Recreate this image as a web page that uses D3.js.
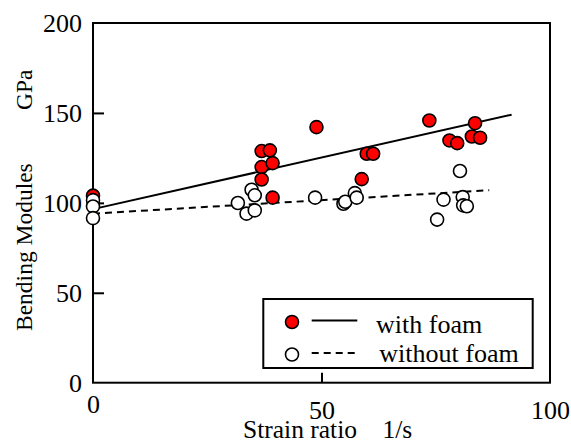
<!DOCTYPE html>
<html><head><meta charset="utf-8">
<script src="https://cdn.jsdelivr.net/npm/d3@7"></script>
<style>
body{margin:0;background:#fff;}
svg text{font-family:'Liberation Serif','Times New Roman',Times,serif !important;fill:#000;}
</style></head>
<body>
<svg id="chart" width="571" height="443" font-family="Liberation Serif"></svg>
<script>
// Data
const withFoamX = [0, 36.9, 38.7, 36.9, 39.3, 36.9, 39.3, 48.9, 58.8, 59.9, 61.3, 73.6, 83.6, 78.0, 79.7, 82.9, 84.7];
const withFoamY = [104, 128.8, 129.2, 119.9, 122.1, 113.0, 102.9, 142.1, 113.2, 127.3, 127.3, 145.8, 144.3, 134.7, 133.2, 136.9, 136.2];
const withoutFoamX = [0, 0, 0, 34.7, 35.4, 31.7, 33.6, 35.4, 48.6, 54.8, 55.2, 57.3, 57.7, 80.3, 76.7, 80.9, 81.0, 81.8, 75.3];
const withoutFoamY = [101.5, 98, 91.5, 107.3, 104.2, 99.9, 94.0, 95.8, 102.9, 99.5, 100.6, 105.4, 102.9, 117.7, 101.8, 103.2, 98.6, 98.1, 90.7];
const fitWithFoam = [[0, 96.5], [91.6, 149]];
const fitWithoutFoam = [[0, 94], [86.7, 107]];
const xTicks = [0, 50, 100];
const yTicks = [0, 50, 100, 150, 200];
const legendLabels = ["with foam", "without foam"];

const FONT = "'Liberation Serif', 'Times New Roman', Times, serif";
const svg = d3.select("#chart");
const x = d3.scaleLinear().domain([0, 100]).range([93, 550]);
const y = d3.scaleLinear().domain([0, 200]).range([382.7, 23]);

// frame
svg.append("rect").attr("x", x(0)).attr("y", y(200)).attr("width", x(100) - x(0)).attr("height", y(0) - y(200))
  .attr("fill", "none").attr("stroke", "#000").attr("stroke-width", 2);

// axes
const yAxis = svg.append("g").attr("transform", `translate(${x(0)},0)`)
  .call(d3.axisLeft(y).tickValues(yTicks).tickSizeInner(-11).tickSizeOuter(0).tickPadding(11));
yAxis.attr("font-family", FONT).attr("font-size", 26);
yAxis.select(".domain").remove();
yAxis.selectAll("line").attr("stroke", "#000").attr("stroke-width", 2)
  .filter(d => d === 0 || d === 200).remove();
yAxis.selectAll("text").style("font-family", FONT).style("font-size", "26px");

const xAxis = svg.append("g").attr("transform", `translate(0,${y(0)})`)
  .call(d3.axisBottom(x).tickValues(xTicks).tickSizeInner(-10).tickSizeOuter(0));
xAxis.attr("font-family", FONT).attr("font-size", 26);
xAxis.select(".domain").remove();
xAxis.selectAll("line").attr("stroke", "#000").attr("stroke-width", 2)
  .filter(d => d === 0 || d === 100).remove();
xAxis.selectAll("text").style("font-family", FONT).style("font-size", "26px")
  .attr("dy", 0).attr("y", d => d === 0 ? 30.3 : 36);

// axis titles
svg.append("text").attr("x", 243).attr("y", 437.5).style("font-family", FONT).style("font-size", "25.5px")
  .style("white-space", "pre").text("Strain ratio    1/s");
svg.append("text").attr("transform", "translate(32,331) rotate(-90)").style("font-family", FONT).style("font-size", "23.5px")
  .text("Bending Modules");
svg.append("text").attr("transform", "translate(32,110) rotate(-90)").style("font-family", FONT).style("font-size", "23.5px")
  .text("GPa");

// fit lines
const line = d3.line().x(d => x(d[0])).y(d => y(d[1]));
svg.append("path").datum(fitWithFoam).attr("d", line).attr("fill", "none").attr("stroke", "#000").attr("stroke-width", 2);
svg.append("path").datum(fitWithoutFoam).attr("d", line).attr("fill", "none").attr("stroke", "#000").attr("stroke-width", 2).attr("stroke-dasharray", "7,5");

// points
const red = withFoamX.map((v, i) => [v, withFoamY[i]]);
const white = withoutFoamX.map((v, i) => [v, withoutFoamY[i]]);
svg.append("g").selectAll("circle").data(red).join("circle")
  .attr("cx", d => x(d[0])).attr("cy", d => y(d[1])).attr("r", 6.5)
  .attr("fill", "#ff0000").attr("stroke", "#000").attr("stroke-width", 1.6);
svg.append("g").selectAll("circle").data(white).join("circle")
  .attr("cx", d => x(d[0])).attr("cy", d => y(d[1])).attr("r", 6.5)
  .attr("fill", "#fff").attr("stroke", "#000").attr("stroke-width", 1.6);

// legend
const lg = svg.append("g");
lg.append("rect").attr("x", 263.3).attr("y", 299).attr("width", 532.7 - 263.3).attr("height", 368 - 299)
  .attr("fill", "#fff").attr("stroke", "#000").attr("stroke-width", 2);
const rows = [{fill: "#ff0000", dash: null, cy: 322, ty: 332.5, tx: 376},
              {fill: "#fff", dash: "7,5", cy: 354.5, ty: 362, tx: 379.3}];
rows.forEach((r, i) => {
  lg.append("circle").attr("cx", 292).attr("cy", r.cy).attr("r", 6.5).attr("fill", r.fill)
    .attr("stroke", "#000").attr("stroke-width", 1.6);
  lg.append("line").attr("x1", 311.7).attr("x2", 357.3).attr("y1", r.cy - 1.5).attr("y2", r.cy - 1.5)
    .attr("stroke", "#000").attr("stroke-width", 2).attr("stroke-dasharray", r.dash);
  lg.append("text").attr("x", r.tx).attr("y", r.ty).style("font-family", FONT).style("font-size", "26px").text(legendLabels[i]);
});
</script>
</body></html>
